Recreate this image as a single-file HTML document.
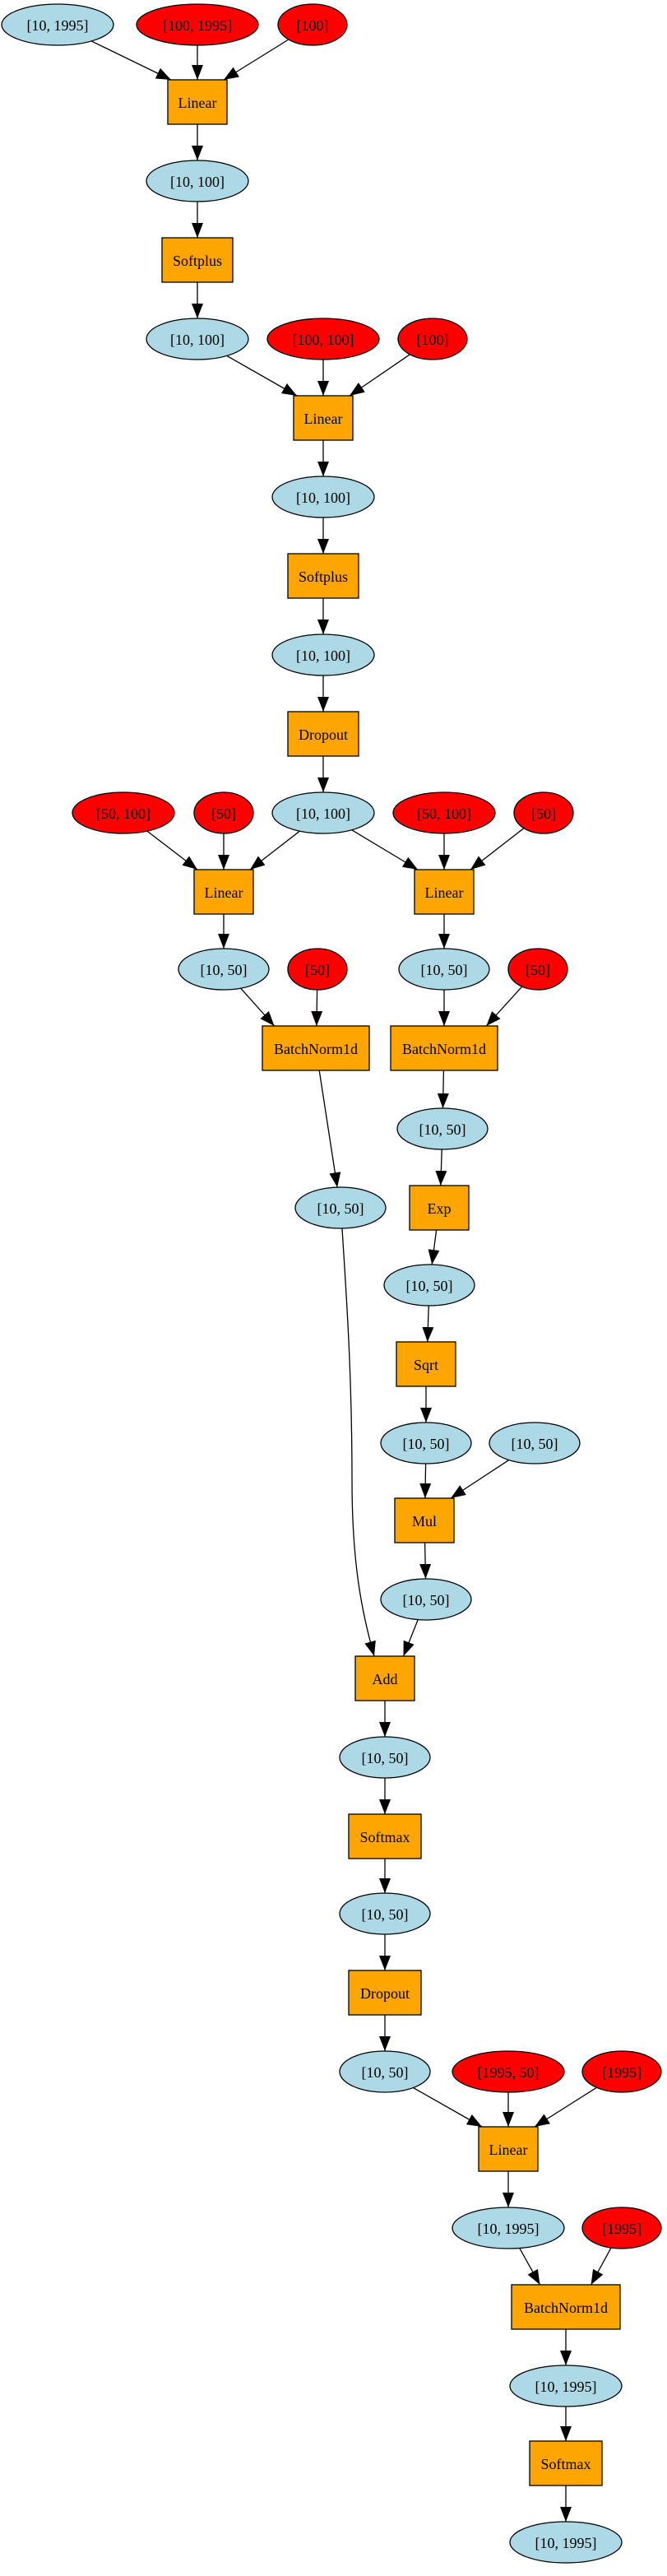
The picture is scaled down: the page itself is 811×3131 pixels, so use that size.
<!DOCTYPE html>
<html><head><meta charset="utf-8"><style>
html,body{margin:0;padding:0;background:#fff;}
svg{display:block;}
text{font-family:"Liberation Serif",serif;font-size:18px;text-anchor:middle;dominant-baseline:central;}
</style></head><body>
<svg id="g" width="811" height="3131" viewBox="0 0 811 3131" xmlns="http://www.w3.org/2000/svg">
<defs><marker id="a" markerUnits="userSpaceOnUse" markerWidth="18" markerHeight="14" refX="18" refY="7" orient="auto"><path d="M0,0 L18,7 L0,14 Z" fill="#000"/></marker></defs>
<g id="edges"></g><g id="nodes"></g>
</svg>
<script>
const B='#add8e6',R='#ff0000',O='#ffa500',H=54,RY=25;
const N={};
function E(id,cx,cy,rx,f,l){N[id]={t:'e',cx,cy,rx,ry:RY,f,l};}
function X(id,cx,cy,w,l){N[id]={t:'b',cx,cy,w,h:H,f:O,l};}
E('a1',70,30,68,B,'[10, 1995]');E('a2',240,30,74,R,'[100, 1995]');E('a3',380,30,42,R,'[100]');
X('L1',240,124,72,'Linear');
E('b1',240,220,62,B,'[10, 100]');
X('S1',240,316,86,'Softplus');
E('c1',240,412,62,B,'[10, 100]');E('c2',393,412,68,R,'[100, 100]');E('c3',526,412,42,R,'[100]');
X('L2',393,508,72,'Linear');
E('d1',393,604,62,B,'[10, 100]');
X('S2',393,700,86,'Softplus');
E('e1',393,796,62,B,'[10, 100]');
X('D1',393,892,86,'Dropout');
E('f1',150,988,62,R,'[50, 100]');E('f2',272,988,36,R,'[50]');E('f3',393,988,62,B,'[10, 100]');E('f4',540,988,62,R,'[50, 100]');E('f5',661,988,36,R,'[50]');
X('L3',272,1084,72,'Linear');X('L4',540,1084,72,'Linear');
E('g1',272,1178,55,B,'[10, 50]');E('g2',386,1178,36,R,'[50]');E('g3',540,1178,55,B,'[10, 50]');E('g4',654,1178,36,R,'[50]');
X('BN1',384,1274,130,'BatchNorm1d');X('BN2',540,1274,130,'BatchNorm1d');
E('h1',538,1372,55,B,'[10, 50]');
E('i1',414,1468,55,B,'[10, 50]');X('EX',534,1468,72,'Exp');
E('j1',522,1562,55,B,'[10, 50]');
X('SQ',518,1658,72,'Sqrt');
E('k1',518,1754,55,B,'[10, 50]');E('k2',650,1754,55,B,'[10, 50]');
X('MU',516,1848,72,'Mul');
E('l1',518,1944,55,B,'[10, 50]');
X('AD',468,2040,72,'Add');
E('m1',468,2136,55,B,'[10, 50]');
X('SM1',468,2232,88,'Softmax');
E('n1',468,2326,55,B,'[10, 50]');
X('D2',468,2422,88,'Dropout');
E('o1',468,2518,55,B,'[10, 50]');E('o2',618,2518,68,R,'[1995, 50]');E('o3',756,2518,48,R,'[1995]');
X('L5',618,2612,72,'Linear');
E('p1',618,2708,68,B,'[10, 1995]');E('p2',756,2708,48,R,'[1995]');
X('BN3',688,2804,132,'BatchNorm1d');
E('q1',688,2900,68,B,'[10, 1995]');
X('SM2',688,2994,88,'Softmax');
E('r1',688,3090,68,B,'[10, 1995]');
const edges=[['a1','L1'],['a2','L1'],['a3','L1'],['L1','b1'],['b1','S1'],['S1','c1'],['c1','L2'],['c2','L2'],['c3','L2'],['L2','d1'],['d1','S2'],['S2','e1'],['e1','D1'],['D1','f3'],
['f1','L3'],['f2','L3'],['f3','L3'],['f3','L4'],['f4','L4'],['f5','L4'],['L3','g1'],['L4','g3'],['g1','BN1'],['g2','BN1'],['g3','BN2'],['g4','BN2'],['BN1','i1'],['BN2','h1'],['h1','EX'],['EX','j1'],['j1','SQ'],['SQ','k1'],['k1','MU'],['k2','MU'],['MU','l1'],['l1','AD'],
['AD','m1'],['m1','SM1'],['SM1','n1'],['n1','D2'],['D2','o1'],['o1','L5'],['o2','L5'],['o3','L5'],['L5','p1'],['p1','BN3'],['p2','BN3'],['BN3','q1'],['q1','SM2'],['SM2','r1']];
function clip(n,dx,dy){
 if(n.t==='e'){const s=1/Math.sqrt((dx*dx)/(n.rx*n.rx)+(dy*dy)/(n.ry*n.ry));return [n.cx+dx*s,n.cy+dy*s];}
 const sx=dx?(n.w/2)/Math.abs(dx):1e9, sy=dy?(n.h/2)/Math.abs(dy):1e9, s=Math.min(sx,sy);return [n.cx+dx*s,n.cy+dy*s];}
let es='';
for(const [s,t] of edges){const a=N[s],b=N[t];
 let tx=b.cx, ty=b.cy; if(b.t==='b'){tx=b.cx+Math.max(-b.w/2+4,Math.min(b.w/2-4,(a.cx-b.cx)*0.45));ty=b.cy-b.h/2;}
 let sx=a.cx, sy=a.cy;
 const dx=tx-sx,dy=ty-sy;const p=clip(a,dx,dy);
 let q=[tx,ty]; if(b.t==='e'){q=clip(b,-dx,-dy);}
 es+=`<line x1="${p[0].toFixed(1)}" y1="${p[1].toFixed(1)}" x2="${q[0].toFixed(1)}" y2="${q[1].toFixed(1)}" stroke="#000" stroke-width="1.3" marker-end="url(#a)"/>`;}
es+=`<path d="M416,1493 C420,1560 428,1660 428,1800 C428,1900 440,1960 455,2013" fill="none" stroke="#000" stroke-width="1.3" marker-end="url(#a)"/>`;
document.getElementById('edges').innerHTML=es;
let ns='';
for(const k in N){const n=N[k];
 if(n.t==='e')ns+=`<ellipse cx="${n.cx}" cy="${n.cy}" rx="${n.rx}" ry="${n.ry}" fill="${n.f}" stroke="#000" stroke-width="1.3"/>`;
 else ns+=`<rect x="${n.cx-n.w/2}" y="${n.cy-n.h/2}" width="${n.w}" height="${n.h}" fill="${n.f}" stroke="#000" stroke-width="1.3"/>`;
 ns+=`<text x="${n.cx}" y="${n.cy+1}">${n.l}</text>`;}
document.getElementById('nodes').innerHTML=ns;
</script>
</body></html>
